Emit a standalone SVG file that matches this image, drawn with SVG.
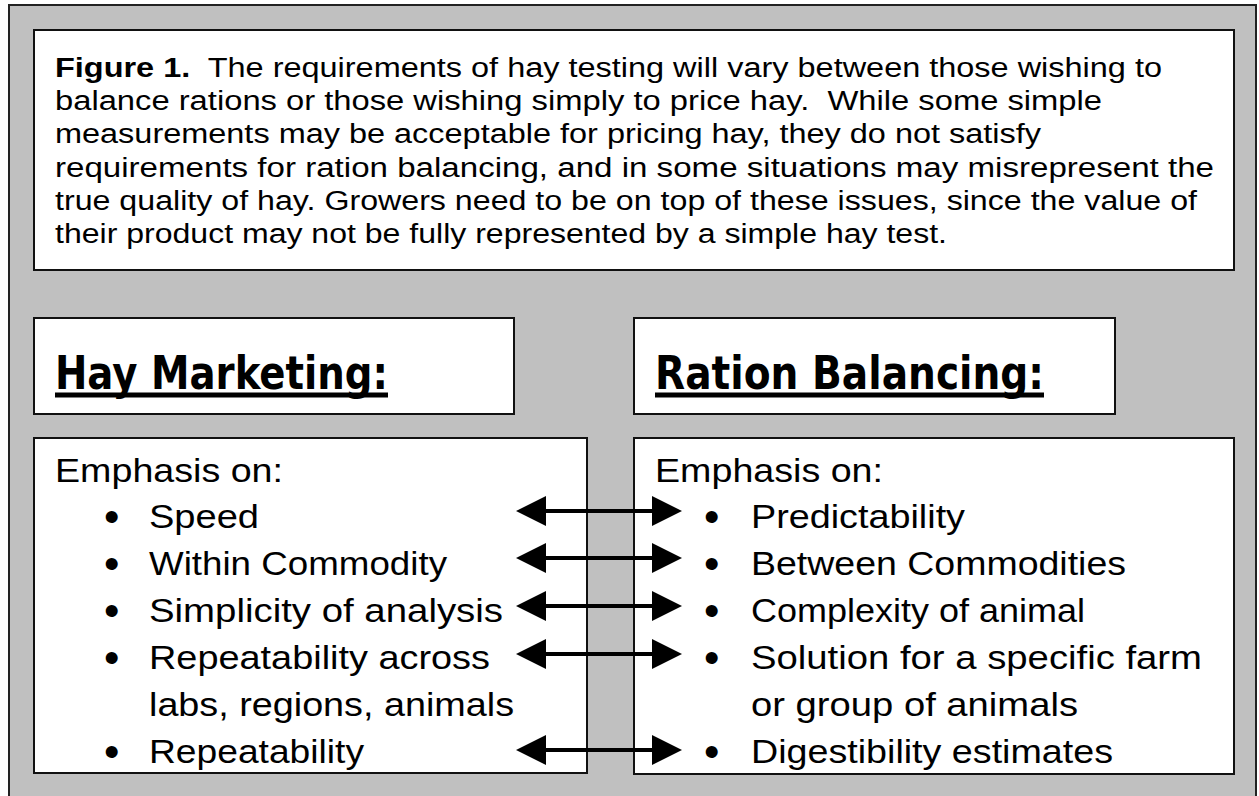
<svg xmlns="http://www.w3.org/2000/svg" width="1259" height="796" viewBox="0 0 1259 796">
<style>
.box{fill:#fff;stroke:#111;stroke-width:2}
.p{font-family:"Liberation Sans",Arial,sans-serif;font-size:27px;fill:#000}
.l{font-family:"Liberation Sans",Arial,sans-serif;font-size:34px;fill:#000}
.b{font-family:"Liberation Sans",Arial,sans-serif;font-size:44px;fill:#000}
.h{font-family:"DejaVu Sans",sans-serif;font-size:46px;font-weight:bold;fill:#000}
.arr{stroke:#000;stroke-width:4;fill:none}
</style>
<defs>
<marker id="ah" markerUnits="userSpaceOnUse" markerWidth="32" markerHeight="32" viewBox="0 -16 32 32" refX="0" refY="0" orient="auto-start-reverse">
<path d="M0,-15 L30,0 L0,15 Z" fill="#000"/>
</marker>
</defs>
<rect x="9" y="5" width="1247" height="800" fill="#c0c0c0" stroke="#222" stroke-width="2"/>
<g id="caption">
<rect class="box" x="34" y="30" width="1200" height="240"/>
<text class="p" x="55" y="77" textLength="1107" lengthAdjust="spacingAndGlyphs"><tspan font-weight="bold">Figure 1.</tspan>&#160; The requirements of hay testing will vary between those wishing to</text>
<text class="p" x="55" y="110" textLength="1047" lengthAdjust="spacingAndGlyphs">balance rations or those wishing simply to price hay.&#160; While some simple</text>
<text class="p" x="55" y="143" textLength="986" lengthAdjust="spacingAndGlyphs">measurements may be acceptable for pricing hay, they do not satisfy</text>
<text class="p" x="55" y="177" textLength="1159" lengthAdjust="spacingAndGlyphs">requirements for ration balancing, and in some situations may misrepresent the</text>
<text class="p" x="55" y="210" textLength="1142" lengthAdjust="spacingAndGlyphs">true quality of hay. Growers need to be on top of these issues, since the value of</text>
<text class="p" x="55" y="243" textLength="892" lengthAdjust="spacingAndGlyphs">their product may not be fully represented by a simple hay test.</text>
</g>
<g id="hay-marketing">
<rect class="box" x="34" y="318" width="480" height="96"/>
<text class="h" x="55" y="389" textLength="333" lengthAdjust="spacingAndGlyphs">Hay Marketing:</text>
<rect x="55" y="392.5" width="333" height="5" fill="#000"/>
</g>
<g id="ration-balancing">
<rect class="box" x="634" y="318" width="481" height="96"/>
<text class="h" x="655" y="389" textLength="389" lengthAdjust="spacingAndGlyphs">Ration Balancing:</text>
<rect x="655" y="392.5" width="389" height="5" fill="#000"/>
</g>
<g id="marketing-list">
<rect class="box" x="34" y="438" width="553" height="335"/>
<text class="l" x="55" y="482" textLength="228" lengthAdjust="spacingAndGlyphs">Emphasis on:</text>
<text class="b" x="104" y="532">•</text>
<text class="b" x="104" y="579">•</text>
<text class="b" x="104" y="626">•</text>
<text class="b" x="104" y="673">•</text>
<text class="b" x="104" y="767">•</text>
<text class="l" x="149" y="528" textLength="110" lengthAdjust="spacingAndGlyphs">Speed</text>
<text class="l" x="149" y="575" textLength="298" lengthAdjust="spacingAndGlyphs">Within Commodity</text>
<text class="l" x="149" y="622" textLength="354" lengthAdjust="spacingAndGlyphs">Simplicity of analysis</text>
<text class="l" x="149" y="669" textLength="341" lengthAdjust="spacingAndGlyphs">Repeatability across</text>
<text class="l" x="149" y="716" textLength="365" lengthAdjust="spacingAndGlyphs">labs, regions, animals</text>
<text class="l" x="149" y="763" textLength="215" lengthAdjust="spacingAndGlyphs">Repeatability</text>
</g>
<g id="ration-list">
<rect class="box" x="634" y="438" width="600" height="336"/>
<text class="l" x="655" y="482" textLength="228" lengthAdjust="spacingAndGlyphs">Emphasis on:</text>
<text class="b" x="704" y="532">•</text>
<text class="b" x="704" y="579">•</text>
<text class="b" x="704" y="626">•</text>
<text class="b" x="704" y="673">•</text>
<text class="b" x="704" y="767">•</text>
<text class="l" x="751" y="528" textLength="214" lengthAdjust="spacingAndGlyphs">Predictability</text>
<text class="l" x="751" y="575" textLength="375" lengthAdjust="spacingAndGlyphs">Between Commodities</text>
<text class="l" x="751" y="622" textLength="334" lengthAdjust="spacingAndGlyphs">Complexity of animal</text>
<text class="l" x="751" y="669" textLength="451" lengthAdjust="spacingAndGlyphs">Solution for a specific farm</text>
<text class="l" x="751" y="716" textLength="327" lengthAdjust="spacingAndGlyphs">or group of animals</text>
<text class="l" x="751" y="763" textLength="362" lengthAdjust="spacingAndGlyphs">Digestibility estimates</text>
</g>
<g id="connectors">
<line class="arr" x1="546" y1="511" x2="652" y2="511" marker-start="url(#ah)" marker-end="url(#ah)"/>
<line class="arr" x1="546" y1="558" x2="652" y2="558" marker-start="url(#ah)" marker-end="url(#ah)"/>
<line class="arr" x1="546" y1="606" x2="652" y2="606" marker-start="url(#ah)" marker-end="url(#ah)"/>
<line class="arr" x1="546" y1="654" x2="652" y2="654" marker-start="url(#ah)" marker-end="url(#ah)"/>
<line class="arr" x1="546" y1="750" x2="652" y2="750" marker-start="url(#ah)" marker-end="url(#ah)"/>
</g>
</svg>
